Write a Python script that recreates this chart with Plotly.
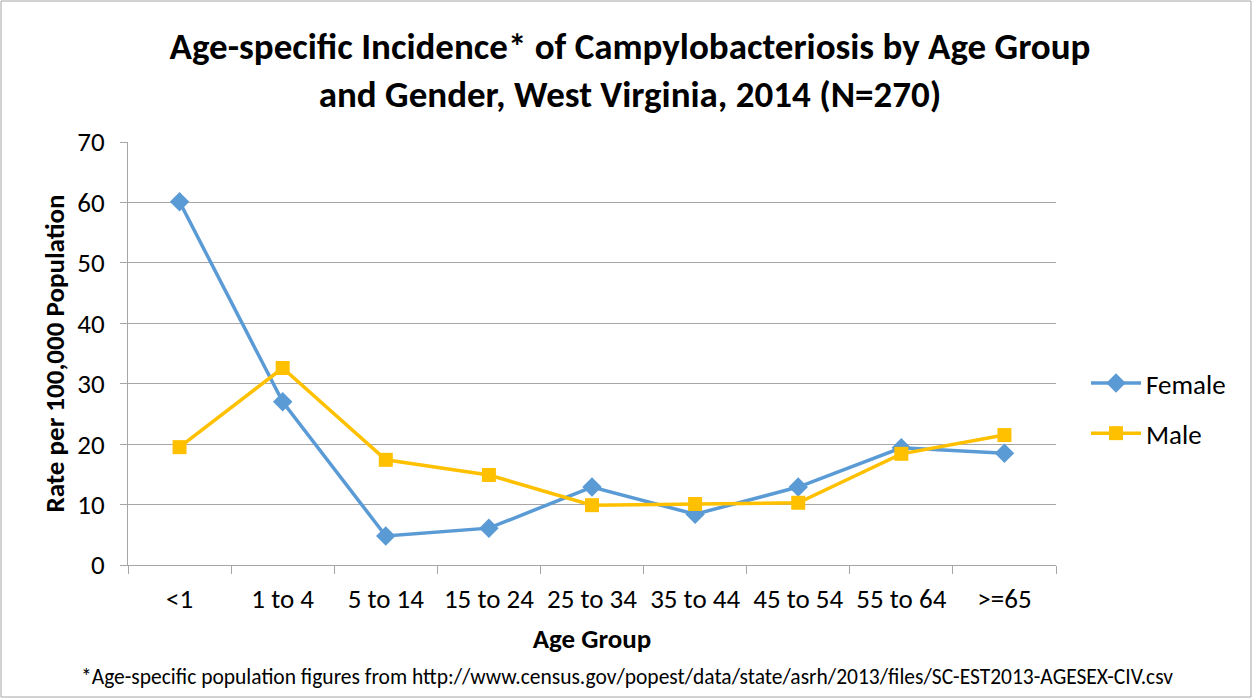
import plotly.graph_objs as go

# Data
age_groups = ["<1", "1 to 4", "5 to 14", "15 to 24", "25 to 34",
              "35 to 44", "45 to 54", "55 to 64", ">=65"]
female_rate = [60.1, 27.0, 4.8, 6.1, 12.9, 8.4, 12.9, 19.4, 18.5]
male_rate = [19.5, 32.6, 17.4, 14.9, 9.9, 10.1, 10.3, 18.4, 21.5]

FONT = "Carlito, Calibri, Lato, sans-serif"
BLUE = "#5B9BD5"
GOLD = "#FFC000"
GRID = "#A6A6A6"

W, H = 1253, 699
L, R, T, B = 128, 197, 142, 134
PW, PH = W - L - R, H - T - B


def px_x(p):
    return (p - L) / PW


def px_y(p):
    return (H - B - p) / PH


fig = go.Figure()
fig.add_trace(go.Scatter(
    x=age_groups, y=female_rate, name="Female", mode="lines+markers",
    legendgroup="f",
    line=dict(color=BLUE, width=3.5),
    marker=dict(symbol="diamond", size=15, color=BLUE),
))
fig.add_trace(go.Scatter(
    x=age_groups, y=male_rate, name="Male", mode="lines+markers",
    legendgroup="m",
    line=dict(color=GOLD, width=3.5),
    marker=dict(symbol="square", size=14, color=GOLD),
))

fig.update_layout(
    width=W, height=H,
    margin=dict(l=L, r=R, t=T, b=B),
    paper_bgcolor="white", plot_bgcolor="white",
    font=dict(family=FONT, size=27, color="black"),
    title=dict(
        text="<b>Age-specific Incidence* of Campylobacteriosis by Age Group<br>"
             "and Gender, West Virginia, 2014 (N=270)</b>",
        x=630 / W, xref="container", xanchor="center",
        y=1 - 59 / H, yref="container", yanchor="middle",
        font=dict(size=37, family=FONT),
    ),
    legend=dict(
        x=px_x(1086), y=px_y(359), xanchor="left", yanchor="top",
        font=dict(size=27), tracegroupgap=12, itemwidth=50,
        bgcolor="rgba(0,0,0,0)",
    ),
    showlegend=True,
)

fig.update_xaxes(
    type="category", tickson="boundaries",
    ticks="outside", ticklen=8, tickcolor=GRID, tickwidth=1,
    showline=True, linecolor=GRID, linewidth=1,
    showgrid=False, range=[-0.5, 8.5],
    title=dict(text="<b>Age Group</b>", font=dict(size=27), standoff=14),
    tickfont=dict(size=27), ticklabelstandoff=10,
)
fig.update_yaxes(
    range=[0, 70], dtick=10, tick0=0,
    ticks="outside", ticklen=7, tickcolor=GRID,
    showline=True, linecolor=GRID, linewidth=1,
    showgrid=True, gridcolor=GRID, gridwidth=1,
    zeroline=False,
    title=dict(text="<b>Rate per 100,000 Population</b>", font=dict(size=27), standoff=4),
    tickfont=dict(size=27), ticklabelstandoff=10,
)

fig.add_annotation(
    text="*Age-specific population figures from "
         "http://www.census.gov/popest/data/state/asrh/2013/files/SC-EST2013-AGESEX-CIV.csv",
    xref="paper", yref="paper", x=px_x(627), y=px_y(677),
    xanchor="center", yanchor="middle", showarrow=False,
    font=dict(size=21.5, family=FONT),
)

fig.add_shape(
    type="rect", xref="paper", yref="paper",
    x0=px_x(1), x1=px_x(W - 2), y0=px_y(H - 2), y1=px_y(1),
    line=dict(color="#A6A6A6", width=1), layer="below",
)

fig.write_html(
    "out.html",
    config={"displayModeBar": False},
    post_script="document.body.style.margin='0';document.body.style.overflow='hidden';",
)
